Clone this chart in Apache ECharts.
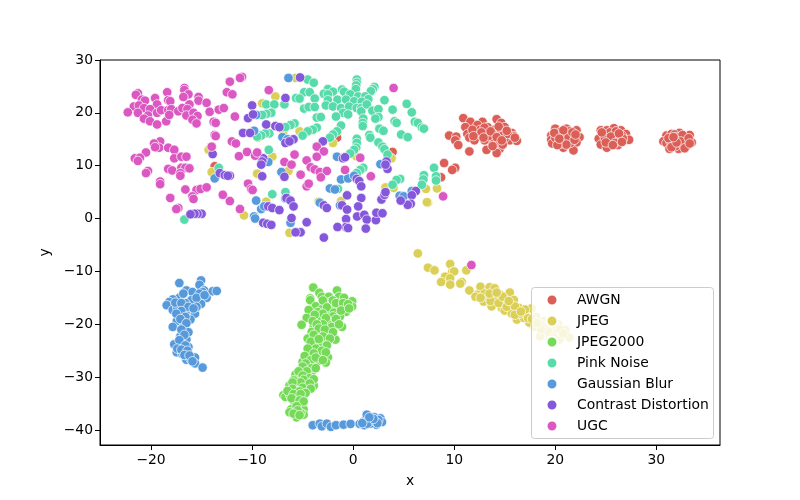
<!DOCTYPE html>
<html>
<head>
<meta charset="utf-8">
<script src="https://cdn.jsdelivr.net/npm/echarts@6/dist/echarts.min.js"></script>
<style>html,body{margin:0;padding:0;background:#fff}#main{width:800px;height:500px}</style>
</head>
<body>
<div id="main"></div>
<script>
var names = ['AWGN', 'JPEG', 'JPEG2000', 'Pink Noise', 'Gaussian Blur', 'Contrast Distortion', 'UGC'];
var colors = ['#db5e57', '#dbd057', '#75db57', '#57dbaa', '#579adb', '#8557db', '#db57c1'];
var xTicks = [-20, -10, 0, 10, 20, 30];
var yTicks = [-40, -30, -20, -10, 0, 10, 20, 30];

var awgn = [[10.9,19],[11.6,18.3],[12.8,18.3],[12.3,17.7],[11.1,17.3],[13.3,17.3],[14.2,18.8],[14.65,18.1],[15,17.3],[14,16.8],[9.5,15.7],[10.2,15.5],[10.1,14.8],[10.4,13.9],[11.3,16],[11.5,15.3],[12.4,15.7],[12.1,16.2],[13,16.2],[13.5,14.9],[14,14.9],[13.2,13],[11.5,12.7],[14.5,13.2],[14.2,12.4],[14.6,16.1],[15.7,16.2],[15.5,14.8],[16.2,14.7],[14.4,14.3],[15,15.2],[15.9,15.6],[13,14.8],
  [12.6,16.8],[13.8,16],[14.8,15.7],[13.4,15.6],[12,14.8],[11.8,16.8],[13,17.2],[14.4,17.4],[15.3,16],[16,15.3],[13.8,13.7],[14.8,14],[12.7,16.3],[11.9,15.6],[13.6,16.5],[15.2,16.6],[14.2,15.4],[12.9,15.3],[14.7,14.8],
  [20,17],[21.1,17],[22.1,16.7],[19.6,15.7],[20.4,15.9],[19.6,14.9],[19.7,14.2],[21,15],[21.8,15.7],[22.4,15.4],[22.1,14.4],[20.8,13.4],[21.8,12.9],[20.3,14.6],[21.3,15.9],[21.5,14.3],
  [20.5,16.4],[20.9,15.6],[21.4,16.5],[20,15.3],[21.3,15.3],[20.6,14.2],[21.1,14],[20.2,13.9],[19.9,16.2],[21.9,14.9],[20.8,16.7],[21.7,16.3],[22,15.9],[20.4,15.1],
  [24.5,16.7],[25.1,16.7],[25.8,17.1],[26.5,16.7],[27,16],[24.3,15.1],[24.8,15.9],[24.5,14],[25.1,13.4],[25.9,15.9],[25.6,14.8],[26.3,15.1],[26.9,14.9],[27.3,14.9],[26.2,13.9],[25.3,14.9],
  [25.4,16.3],[26,16.5],[24.9,15.3],[25.5,15.5],[26.6,15.7],[25.9,14.3],[25,14.4],[26.7,15.1],[24.6,16.3],[26.3,16.1],[25.7,13.9],[26.6,14.5],
  [31,15.7],[31.5,16],[32.3,16.2],[33.3,15.8],[30.7,14.6],[31,14.3],[31.3,13.2],[32.2,14.2],[32.2,13.2],[33,13.7],[33.5,14.4],[32.7,15.2],[31.9,15],[31.4,14.6],[33,14.6],
  [31.8,15.9],[32,15.4],[32.6,15.8],[31.6,13.9],[31.9,13.7],[32.6,14],[32.4,14.6],[33.2,15.2],[31.2,15.2],[32.8,13.3],[31.5,13.5],[33.3,14.2],[32,14.4],[31.7,15.4],
  [9,10.5],[10.1,9.6],[9.8,9.2],[8.7,7.8],[3.9,12.6],[-1.6,15.3],[-13.7,9.9]];
var jpeg = [[6.4,-6.6],[7.4,-9.3],[8.05,-9.8],[9.6,-8.6],[9.8,-10.1],[10,-10],[9.1,-11],[9.6,-11.3],[8.7,-12],[9.6,-12.5],[10.75,-12],[10.6,-12.3],[11.2,-9.8],[11.5,-13.6],[12.6,-12.9],[12.3,-14.4],[12.1,-14.8],[12.9,-15.7],[13.5,-13],[14,-13.2],[13.3,-14.8],[13.9,-14.7],[13.7,-16.6],[14.55,-14.4],[14.2,-15.4],[15.5,-14],[15,-15.2],[15.9,-15.4],[14.7,-16.9],[15,-17.4],[15.5,-16.3],[15.8,-17.2],[15.7,-18],[16.4,-16.9],[16.2,-19.1],[17,-18],[16.9,-18.8],[17.65,-17],[17.45,-19.7],[18.1,-18.6],[18,-20.5],[18.9,-19.4],[19.6,-19.1],[20.3,-20],[19,-20.9],[18.5,-22.3],[19.5,-22],[20,-21],[20.6,-22.3],[21,-21.1],[21.4,-22.5],[20.4,-22.9],[19.4,-23.2],
  [13,-14.2],[13.6,-15.6],[14.4,-16],[15.2,-16.7],[16,-16.6],[16.5,-18],[17.3,-18.8],[12.6,-15],[13.5,-14.2],[14.8,-14.8],[15.4,-15.6],[16,-18.2],[17.7,-19],[18.5,-20],[19.3,-20.5],[19.9,-19.9],[20.5,-21],[19.3,-21.4],[18.6,-21],[19.8,-22.5],[18.2,-19.8],[17,-17.2],[14.2,-14],[16.6,-17.6],[20.8,-21.8],
  [-7.7,23.1],[-5.7,26.6],[-9,21.8],[-6.9,16.5],[-5.3,16.5],[-9.4,15.3],[-8,11.7],[-2,14.3],[0.3,11.8],[3.8,11.4],[-6.4,9],[-9.5,8.5],[-10.8,0.6],[-8.6,3.2],[-3.4,3.2],[-1.2,3.3],[3.2,5.9],[4,5.8],[7.2,5.6],[8.3,5.7],[7.4,3],[7.3,3.1],[-6.3,-2.7],[-14,8.8],[-14.3,13]];
var jpeg2000 = [[-3.95,-13.05],[-3.35,-14.05],[-1.6,-13.6],[-3.1,-14.8],[-2.4,-14.8],[-4.25,-15.1],[-4.25,-15.45],[-1.4,-14.8],[-0.9,-15],[-0.1,-15.65],[-0.1,-16.65],[-0.7,-17.65],[-2.3,-15.8],[-2.9,-16],[-3.7,-16.6],[-4.4,-17.3],[-3.1,-17.15],[-2.25,-17.35],[-1.45,-16.9],[-4.6,-18.8],[-5.1,-20.1],[-3.25,-19.1],[-2.4,-19.9],[-1.6,-19.75],[-1.1,-20.5],[-1.3,-18.5],[-3.9,-20.4],[-4.1,-21.45],[-3.45,-21.65],[-2.7,-22.15],[-4.5,-22.7],[-3.9,-23.1],[-2.95,-23.1],[-1.75,-22.9],[-4.1,-24.15],[-3.25,-24.35],[-4.4,-25.75],[-3.35,-26.05],[-2.5,-26.25],[-2.7,-27.25],[-5,-27.1],[-4.4,-27.9],[-3.6,-27.3],[-5.1,-28.65],[-4.15,-29.3],[-5.7,-29.5],[-5.5,-30.3],[-4.7,-31.4],[-3.9,-31.6],[-6.3,-31.6],[-5.4,-31.4],[-5.7,-32.65],[-5,-33.8],[-6.9,-33.4],[-6.7,-33.75],[-6.25,-33.4],[-5.5,-34.05],[-5.8,-34.9],[-6.15,-36.1],[-6.3,-36.65],[-4.9,-36.1],[-4.9,-37.1],[-5.6,-37.6],[-5.2,-36.8],[-4.6,-32.35],
  [-3,-15.5],[-2,-15.5],[-1.7,-16],[-1,-16],[-0.5,-16.2],[-2.6,-16.8],[-3.5,-17.7],[-1.9,-17.8],[-1.2,-17.4],[-0.4,-17],[-3,-18],[-2,-18.5],[-3.8,-18.2],[-2.7,-18.8],[-1.7,-19],[-4,-19.4],[-3,-20],[-2.1,-20.5],[-3.6,-20],[-1.4,-20],[-3.4,-20.8],[-2.8,-21],[-2,-21.5],[-3.9,-22],[-3,-22.3],[-2.3,-22.7],[-4.2,-23.3],[-3.4,-22.8],[-2.6,-24],[-3.7,-24.6],[-4.5,-24.6],[-3.1,-25],[-2.7,-25.3],[-3.9,-25.5],[-4.8,-26],[-4.2,-26.8],[-3.7,-26.3],[-3,-26.8],[-4.7,-27.4],[-5,-28],[-4.1,-28.3],[-3.7,-28.3],[-4.6,-28.9],[-5.4,-28.9],[-5,-29.7],[-4.3,-30.2],[-3.9,-30.4],[-4.9,-30.5],[-5.9,-30.6],[-5.2,-31],[-4.3,-31.2],[-6,-31],[-5,-32],[-4.2,-32.2],[-6,-32.2],[-5.3,-32.7],[-6.5,-32.6],[-4.7,-33],[-5.9,-33.2],[-5.2,-33.2],[-6.1,-34],[-5.3,-34.4],[-4.9,-34.6],[-5.6,-35.5],[-5.5,-36.3],[-5.9,-36.9],[-5.3,-37.2]];
var pinkNoise = [[-4.5,26.3],[-3.9,25.7],[0.36,26.3],[0.36,25.7],[0.3,25.2],[2.1,24.9],[1.95,24.5],[1.75,24.1],[0.26,24.5],[-2.5,24.5],[-1.1,24.4],[-0.9,24],[-2,24],[-2.9,23.6],[-2.5,23.5],[-4.85,23.9],[-4.3,23.9],[-0.3,23.5],[0.5,23.1],[1.2,23.1],[1.5,22.6],[-5.65,22.8],[-5.3,22.7],[-3.8,22.7],[-2.5,22.4],[-1.55,22.5],[-0.7,22.5],[0.1,22.2],[3.1,22.4],[5.3,21.7],[0.85,22.1],[-8.6,21.6],[-7.8,21.6],[-6.8,21.6],[-2.7,21.4],[-2,21.2],[-1.2,20.9],[-0.4,21.2],[0.35,20.9],[0.8,20.9],[0.8,20.3],[1.35,21.6],[1.9,20.4],[2.5,20.7],[3.9,20.6],[5.8,20.1],[-4.85,20.8],[-4.4,21.1],[-3.8,21.1],[-1,20],[-0.5,19.7],[-1.7,19.3],[-3.6,19.1],[-3.2,19.2],[1,18.9],[0.95,18.1],[0.95,17.5],[2.5,19.2],[2.2,18.9],[4.1,18.4],[4.3,18.1],[6.1,18.3],[6.4,18.1],[6.8,17.2],[7,17],[-8.1,20],[-8.6,19.8],[-9,19.6],[-5.8,18],[-6.2,17.7],[-6.7,17.3],[-3.6,17.2],[-4,16.8],[-4.5,16.5],[-8.3,16.1],[-8.7,16.1],[-9.1,15.7],[-5,15.7],[-1.2,17.6],[-1.6,16.5],[-2,15.9],[-2.3,15.3],[2.6,17],[3,16.6],[4.75,15.9],[5.4,15.4],[1.6,15.8],[1.7,15.3],[2.5,14.4],[2.9,13.6],[3.1,13.1],[3.4,12.1],[0.36,15.1],[0.36,14.3],[0.3,13.4],[0.1,13],[-0.3,12.3],[-8.35,13],[1,9.6],[0.7,9.2],[0.35,8.6],[-6.7,5],[-8,4.6],[4.65,7.5],[4.3,7.3],[3.9,6.4],[8,9.6],[7,8.2],[6.95,7.4],[6.8,6.4],[8.2,8],[8.2,7.2],[-1.5,5.6],[-16.7,-0.2],[-13.3,9.6],[-9.5,15.5]];
var gaussianBlur = [[-15.05,-11.7],[-15.2,-12.55],[-17.2,-12.2],[-16.5,-13.6],[-15.9,-13.9],[-14.75,-13.6],[-14.9,-13.9],[-13.9,-13.75],[-13.5,-13.7],[-14.5,-15],[-15.2,-14.2],[-17.2,-15],[-17.85,-15.3],[-18.2,-15.8],[-18.45,-16.4],[-17.85,-17.3],[-16,-15.45],[-16.6,-16],[-15.05,-16.15],[-17.4,-16.9],[-16.1,-17.2],[-16.6,-17.85],[-15.65,-18],[-16.1,-19.1],[-17.45,-19.4],[-17.85,-20.5],[-16.8,-20.5],[-17.1,-22.3],[-16.5,-22.9],[-17.7,-23.8],[-17,-23.65],[-16.3,-24.3],[-17.45,-25.3],[-16.9,-25.65],[-16.5,-26.7],[-16.1,-26.55],[-15.65,-26.3],[-15.65,-27.4],[-14.9,-28.2],
  [-16.8,-14.2],[-15.5,-15],[-14.7,-14.5],[-17.6,-15.9],[-17,-16],[-16.3,-16.7],[-15.5,-16.7],[-17,-17.5],[-17.5,-18],[-16.6,-18.6],[-15.8,-17],[-17.1,-19],[-16.5,-19.8],[-16.3,-21.5],[-17,-21],[-16.7,-22],[-17.2,-23],[-16.6,-24],[-17.4,-24.6],[-17,-24.8],[-16.4,-25],[-16.7,-25.8],[-16.2,-25.9],[-15.9,-27],
  [-4,-39.1],[-3.3,-38.8],[-3.1,-39.3],[-2.6,-38.8],[-2.2,-39.4],[-1.7,-39.1],[-0.95,-39],[-0.25,-38.85],[0.65,-38.85],[1.05,-38.4],[1.35,-37.1],[2.1,-37.6],[2.7,-37.8],[2.85,-38.5],[2.3,-39],[1.7,-38.8],[1.1,-39.1],[2.5,-38.1],[2,-38.2],[1.5,-38.2],[2.4,-38.7],[1.4,-38.8],[0.9,-38.7],[2,-37.9],[1.6,-37.6],
  [-6.4,26.6],[-1.6,11.7],[-7,15.4],[-6.5,15],[-9.8,16.6],[-9.6,19.6],[-8.4,10.7],[-7.1,8.8],[2.7,10.3],[-1.2,7.4],[-0.5,7.6],[0.1,8.1],[-2.3,5.7],[-1.8,5.5],[4.6,4.3],[5,4.2],[5.8,5.2],[-9.6,3.4],[-9.1,1.8],[-9.8,0.4],[-9.7,0],[-6.2,-0.8],[-6.7,3.8],[-3.3,3],[-1.3,2.5],[-8.8,2.3],[-13.7,7.6]];
var contrastDistortion = [[-5.25,26.7],[-6.7,22.8],[-10,21.4],[-10.4,19],[-9.9,19.7],[-8.6,17.8],[-7.7,17.5],[-7.3,17.3],[-10.9,16.2],[-10.2,16.2],[-5.9,15],[-6.7,14.3],[-6.3,14.6],[-3,14.6],[-1,11.4],[-0.8,11.6],[-8.9,11.4],[-9,10.8],[-9.1,10.2],[-9,8],[-6.8,7.9],[-12.2,8.1],[3.4,9.4],[3.3,10.8],[3.2,10.2],[0.36,7.5],[0.6,7.1],[0.8,6.1],[-0.6,4.4],[0.8,3.9],[2.8,3.6],[3.1,4.5],[3.2,5],[6.2,5.2],[5.8,4.4],[5.7,2.8],[5.4,2.6],[4.7,3.4],[-6.6,3.9],[-6.2,3.4],[-5.9,2.3],[-8.4,2.3],[-8,2],[-7.3,1.6],[-2.9,2.5],[-2.6,2],[-1.1,2.5],[-0.6,1.7],[0.5,2.3],[0.4,0.4],[1.1,0.7],[1.35,-0.2],[2.25,-0.3],[2.3,1.1],[2.9,1],[-6.1,0.1],[-8.9,-0.8],[-8.5,-1],[-8.1,-1.2],[-4.6,-0.7],[-0.7,-0.1],[-0.7,-1.6],[-1.55,-1.6],[1.25,-1.9],[-0.5,-1.8],[-5.2,-2.6],[-5.7,-2.6],[-2.9,-3.6],[-13.9,12.2],[-13.2,8.6],[-12.7,8.2],[-12.4,8.1],[-15,0.9],[-15.4,0.9],[-15.7,0.9],[-16.1,0.8]];
var ugc = [[-11,26.8],[-11.2,26.6],[-12.2,25.9],[-12.5,23.9],[-11.95,23.5],[-21.3,23.7],[-21.5,23.4],[-20.9,22.5],[-20.6,22.3],[-19.6,22.8],[-18.4,23.9],[-16.7,24.7],[-16.7,24.3],[-16.3,23.5],[-16.8,23],[-18.3,22.4],[-18.1,22.2],[-19.4,21.6],[-15.3,23],[-15.3,22.3],[-14.5,21.9],[-16.2,21.6],[-21.7,21.2],[-21.2,21.4],[-20.7,20.9],[-20.1,20.7],[-22.3,20.1],[-21.3,20],[-20.3,19.5],[-20.7,18.9],[-20.1,18.4],[-19.4,17.8],[-19.4,20],[-19,20.5],[-18.3,20.5],[-18,20.7],[-18.5,18.4],[-18.2,19.6],[-17.3,20.3],[-16.9,20.9],[-16.4,20.7],[-16.5,19.5],[-15.8,20],[-15.4,19.4],[-15.9,18.7],[-15.5,18],[-14.2,20.2],[-13.3,20.6],[-12.8,20.9],[-13.8,18.3],[-13.6,18.1],[-11.7,19.3],[-13.7,15.8],[-13.6,15.6],[-12,14.6],[-11.6,14.2],[-14,13.6],[-11.3,11.8],[-10.5,12.6],[-9.7,11.9],[-9.5,12.5],
  [-19.1,14.6],[-19.7,14.2],[-19.2,13.4],[-19.6,13.5],[-18.3,13.4],[-17.7,13],[-20.5,12.5],[-21.6,11.4],[-21.1,11.5],[-21.3,10.9],[-17.7,11.4],[-17,11.7],[-16.5,11.7],[-18.3,9.4],[-17.9,9.1],[-17,9.6],[-16.6,9.6],[-16.2,9.5],[-17.1,8.6],[-17.1,8.1],[-20.3,9],[-20.5,8.6],[-19.1,7],[-19.1,6.5],[-16.6,5.5],[-15.5,5.4],[-15.1,5.6],[-14.5,5.9],[-15.9,4.2],[-15.8,3.7],[-18.1,3.9],[-17.3,2],[-17.5,1.8],[-12.9,4.5],[-12.2,3.3],[-11.2,1.8],[-10.4,6.6],[-10.1,5.6],[-9.95,5.4],
  [-8.35,24.3],[4,24.7],[-5.8,12.1],[-6.8,10.7],[-6.1,10.2],[-4.6,11],[-3.6,13.6],[-2.9,12.7],[-3.6,11.7],[-4.2,9.7],[-3.8,9.3],[-3.3,8.8],[-2.6,9],[-3.2,7.8],[-5.2,8.3],[-4.6,6.1],[-4.4,6.6],[-0.8,9.2],[0.7,11.5],[1.75,8],[8.9,4.2],[11.7,-8.8]];

var pointSets = [awgn, jpeg, jpeg2000, pinkNoise, gaussianBlur, contrastDistortion, ugc];

var fontName = 'DejaVu Sans';
var minus = function (v) { return String(v).replace('-', '\u2212'); };
var axisBase = function (ticks, name, gap, labelMargin) {
    return {
        type: 'value',
        name: name,
        nameLocation: 'middle',
        nameGap: gap,
        nameTextStyle: { color: '#000', fontSize: 13.9, fontFamily: fontName },
        splitLine: { show: false },
        axisLine: { show: true, onZero: false, lineStyle: { color: '#000', width: 1 } },
        axisTick: { show: true, length: 5, customValues: ticks, lineStyle: { color: '#000', width: 1 } },
        axisLabel: { show: true, customValues: ticks, formatter: minus, color: '#000', fontSize: 13.9, margin: labelMargin, fontFamily: fontName, showMinLabel: true, showMaxLabel: true }
    };
};

var myChart = echarts.init(document.getElementById('main'));
var xAxis = axisBase(xTicks, 'x', 29, 8);
xAxis.min = -25.05;
xAxis.max = 36.3;
var yAxis = axisBase(yTicks, 'y', 34, 7);
yAxis.min = -42.84;
yAxis.max = 30;
yAxis.axisLabel.padding = [4, 0, 0, 0];

var option = {
    animation: false,
    backgroundColor: '#fff',
    grid: { left: 100, right: 80, top: 60, bottom: 55, show: true, borderColor: '#000', borderWidth: 1, backgroundColor: 'transparent' },
    xAxis: xAxis,
    yAxis: yAxis,
    // legend frame sits between the points and the legend text
    graphic: [{
        type: 'rect',
        z: 3,
        shape: { x: 531.5, y: 287.5, width: 182, height: 151, r: 3 },
        style: { fill: 'rgba(255,255,255,0.8)', stroke: '#ccc', lineWidth: 1 }
    }],
    legend: {
        data: names,
        left: 545.5,
        top: 288,
        orient: 'vertical',
        icon: 'circle',
        itemWidth: 40,
        itemHeight: 11,
        itemGap: 7,
        padding: [5, 5, 6, 0],
        textStyle: { color: '#000', fontSize: 13.9, fontFamily: fontName, lineHeight: 14 },
        selectedMode: false
    },
    series: names.map(function (name, i) {
        return {
            name: name,
            type: 'scatter',
            data: pointSets[i],
            symbol: 'circle',
            symbolSize: 9.5,
            itemStyle: { color: colors[i], borderColor: '#fff', borderWidth: 0.7, opacity: 1 },
            emphasis: { disabled: true }
        };
    })
};
myChart.setOption(option);
</script>
</body>
</html>
